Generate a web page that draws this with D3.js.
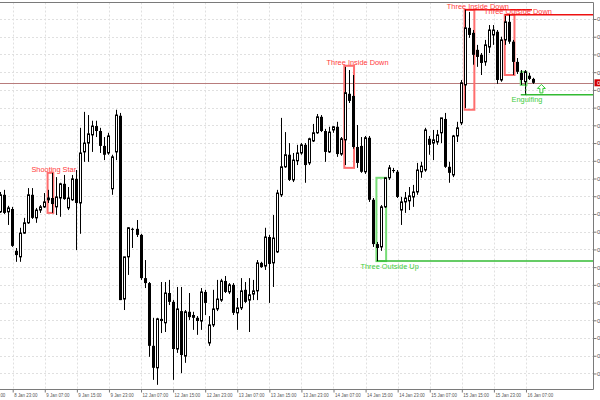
<!DOCTYPE html>
<html><head><meta charset="utf-8">
<script src="https://cdn.jsdelivr.net/npm/d3@7"></script>
<style>
html,body{margin:0;padding:0;background:#fff;}
svg{display:block;}
text{font-family:"Liberation Sans",Arial,sans-serif;}
</style></head><body>
<svg id="chart" width="600" height="400"></svg>
<script>
// ---- DATA ----
const openP = [0.78256,0.78304,0.78256,0.78264,0.78146,0.78129,0.78196,0.78225,0.78304,0.78239,
0.78261,0.78270,0.78290,0.78295,0.78270,0.78295,0.78335,0.78267,0.78290,0.78349,
0.78281,0.78425,0.78450,0.78473,0.78498,0.78484,0.78442,0.78422,0.78321,0.78425,
0.78527,0.78010,0.78129,0.78208,0.78208,0.78191,0.78069,0.78055,0.77878,0.77816,
0.77954,0.77943,0.78027,0.78002,0.77869,0.77976,0.77849,0.77974,0.77965,0.77957,
0.77948,0.78030,0.77886,0.77937,0.77982,0.78007,0.78061,0.78030,0.78050,0.77971,
0.77985,0.78036,0.78007,0.78024,0.78033,0.78112,0.78103,0.78185,0.78112,0.78143,
0.78304,0.78383,0.78417,0.78346,0.78400,0.78422,0.78445,0.78394,0.78456,0.78479,
0.78524,0.78484,0.78425,0.78487,0.78496,0.78419,0.78459,0.78589,0.78583,0.78439,
0.78442,0.78369,0.78465,0.78290,0.78165,0.78157,0.78270,0.78352,0.78374,0.78369,
0.78261,0.78284,0.78287,0.78298,0.78312,0.78369,0.78374,0.78462,0.78450,0.78453,
0.78479,0.78518,0.78383,0.78360,0.78470,0.78507,0.78614,0.78775,0.78761,0.78713,
0.78699,0.78679,0.78721,0.78755,0.78764,0.78628,0.78741,0.78792,0.78736,0.78679,
0.78648,0.78623,0.78640,0.78631];
const highP = [0.78312,0.78318,0.78273,0.78270,0.78154,0.78211,0.78239,0.78323,0.78323,0.78267,
0.78275,0.78309,0.78318,0.78366,0.78354,0.78338,0.78360,0.78326,0.78360,0.78374,
0.78493,0.78538,0.78529,0.78513,0.78513,0.78493,0.78467,0.78479,0.78417,0.78544,
0.78535,0.78129,0.78213,0.78211,0.78233,0.78194,0.78120,0.78058,0.77957,0.77957,
0.78058,0.78058,0.78064,0.78007,0.78044,0.78044,0.77979,0.78027,0.77974,0.77962,
0.78041,0.78036,0.77962,0.78036,0.78064,0.78067,0.78075,0.78055,0.78055,0.78013,
0.78069,0.78058,0.78069,0.78064,0.78120,0.78115,0.78211,0.78191,0.78247,0.78318,
0.78521,0.78481,0.78450,0.78422,0.78445,0.78450,0.78450,0.78465,0.78504,0.78532,
0.78529,0.78490,0.78496,0.78498,0.78510,0.78467,0.78665,0.78656,0.78642,0.78501,
0.78467,0.78470,0.78470,0.78295,0.78171,0.78275,0.78352,0.78388,0.78380,0.78374,
0.78298,0.78312,0.78326,0.78332,0.78394,0.78397,0.78493,0.78470,0.78487,0.78487,
0.78521,0.78535,0.78397,0.78473,0.78510,0.78628,0.78826,0.78820,0.78769,0.78727,
0.78704,0.78741,0.78783,0.78783,0.78769,0.78750,0.78809,0.78812,0.78741,0.78690,
0.78656,0.78656,0.78648,0.78634];
const lowP = [0.78253,0.78250,0.78219,0.78157,0.78115,0.78115,0.78194,0.78222,0.78236,0.78225,
0.78253,0.78267,0.78281,0.78253,0.78247,0.78242,0.78290,0.78261,0.78287,0.78148,
0.78194,0.78397,0.78397,0.78425,0.78467,0.78422,0.78402,0.78417,0.78304,0.78402,
0.78007,0.77979,0.78078,0.78154,0.78185,0.78064,0.78041,0.77847,0.77782,0.77768,
0.77914,0.77917,0.77993,0.77782,0.77858,0.77801,0.77830,0.77951,0.77923,0.77909,
0.77923,0.77965,0.77878,0.77931,0.77976,0.78002,0.78027,0.78024,0.77965,0.77923,
0.77979,0.77999,0.77917,0.78007,0.78007,0.78098,0.78092,0.77999,0.78044,0.78140,
0.78298,0.78380,0.78343,0.78340,0.78388,0.78417,0.78338,0.78388,0.78453,0.78476,
0.78481,0.78397,0.78422,0.78479,0.78411,0.78414,0.78388,0.78563,0.78434,0.78380,
0.78366,0.78363,0.78284,0.78157,0.78117,0.78146,0.78267,0.78346,0.78366,0.78295,
0.78219,0.78253,0.78261,0.78270,0.78304,0.78352,0.78369,0.78417,0.78402,0.78445,
0.78450,0.78380,0.78338,0.78354,0.78453,0.78501,0.78549,0.78747,0.78671,0.78665,
0.78642,0.78668,0.78704,0.78727,0.78617,0.78623,0.78727,0.78730,0.78642,0.78645,
0.78614,0.78586,0.78628,0.78617];
const closeP = [0.78304,0.78253,0.78267,0.78160,0.78134,0.78196,0.78225,0.78304,0.78239,0.78261,
0.78270,0.78284,0.78295,0.78278,0.78298,0.78335,0.78292,0.78295,0.78349,0.78281,
0.78422,0.78450,0.78476,0.78498,0.78484,0.78442,0.78417,0.78470,0.78411,0.78529,
0.78007,0.78129,0.78211,0.78206,0.78191,0.78069,0.78055,0.77878,0.77816,0.77954,
0.77948,0.78027,0.78002,0.77869,0.77982,0.77852,0.77974,0.77959,0.77957,0.77948,
0.78030,0.77999,0.77937,0.77982,0.78010,0.78061,0.78030,0.78050,0.77971,0.77985,
0.78033,0.78002,0.78022,0.78033,0.78112,0.78100,0.78185,0.78109,0.78182,0.78309,
0.78383,0.78417,0.78346,0.78402,0.78422,0.78445,0.78388,0.78462,0.78479,0.78524,
0.78484,0.78425,0.78481,0.78496,0.78419,0.78462,0.78592,0.78569,0.78439,0.78394,
0.78369,0.78465,0.78290,0.78165,0.78154,0.78270,0.78352,0.78380,0.78371,0.78298,
0.78284,0.78295,0.78301,0.78312,0.78374,0.78385,0.78487,0.78445,0.78459,0.78473,
0.78521,0.78383,0.78366,0.78470,0.78493,0.78620,0.78775,0.78755,0.78699,0.78693,
0.78676,0.78727,0.78769,0.78769,0.78628,0.78741,0.78792,0.78736,0.78679,0.78651,
0.78628,0.78651,0.78631,0.78620];

const timeLabels = ["8 Jan 15:00","8 Jan 23:00","9 Jan 07:00","9 Jan 15:00","9 Jan 23:00",
"12 Jan 07:00","12 Jan 15:00","12 Jan 23:00","13 Jan 07:00","13 Jan 15:00","13 Jan 23:00",
"14 Jan 07:00","14 Jan 15:00","14 Jan 23:00","15 Jan 07:00","15 Jan 15:00","15 Jan 23:00","16 Jan 07:00"];
const timeLabelBars = [-5,3,11,19,27,35,43,51,59,67,75,83,91,99,107,115,123,131];
const priceTicks = [0.7780,0.7785,0.7790,0.7795,0.7800,0.7805,0.7810,0.7815,0.7820,0.7825,0.7830,
0.7835,0.7840,0.7845,0.7850,0.7855,0.7860,0.7865,0.7870,0.7875,0.7880];

const patternNames = ["Shooting Star","Three Inside Down","Three Outside Up","Three Inside Down","Three Outside Down","Engulfing"];
const patternStart = [12,86,94,116,126,130];
const patternEnd = [13,88,96,118,128,131];
const patternHigh = [0.78366,0.78668,0.78352,0.78826,0.78812,0.78651];
const patternLow = [0.78253,0.78380,0.78117,0.78544,0.78642,0.78614];
const patternBullish = [false,false,true,false,false,true];
const patternLevel = [null,null,0.78117,0.78826,0.78812,0.78586];
const patternLevelEndBar = [null,null,null,132.5,null,null];

// ---- LAYOUT ----
const axisX = 593.5, bottomY = 389.5, topY = 2.5, barStep = 4.01;
const svg = d3.select("#chart");
const n = closeP.length;
const x = d3.scaleLinear().domain([0, n-1]).range([0.67, 0.67 + (n-1)*barStep]);
const y = d3.scaleLinear().domain([0.777562, 0.788536]).range([389, 0]);

const gGrid = svg.append("g");
gGrid.selectAll("line.h").data(priceTicks).enter().append("line")
  .attr("x1",0).attr("x2",axisX).attr("y1",d=>Math.round(y(d))+0.5).attr("y2",d=>Math.round(y(d))+0.5)
  .attr("stroke","#e0e0e0").attr("stroke-dasharray","2,2");
gGrid.selectAll("line.v").data(timeLabelBars).enter().append("line")
  .attr("x1",d=>Math.round(x(d))+0.5).attr("x2",d=>Math.round(x(d))+0.5).attr("y1",topY).attr("y2",bottomY)
  .attr("stroke","#e0e0e0").attr("stroke-dasharray","2,2");

// bid line
const lastClose = closeP[n-1];
svg.append("line").attr("x1",0).attr("x2",axisX).attr("y1",Math.round(y(lastClose))+0.5).attr("y2",Math.round(y(lastClose))+0.5)
  .attr("stroke","#b87c7c").attr("stroke-width",1);

// pattern boxes and levels (behind candles)
const gPat = svg.append("g");
patternNames.forEach((name,k)=>{
  const bull = patternBullish[k];
  const boxCol = bull ? "#77dd77" : "#ff6e6e";
  const lineCol = bull ? "#33bb33" : "#ee1111";
  const x0 = x(patternStart[k]) - 1.2, x1 = x(patternEnd[k]) + 0.5;
  gPat.append("rect").attr("x",x0).attr("y",y(patternHigh[k])).attr("width",x1-x0)
    .attr("height",y(patternLow[k])-y(patternHigh[k])).attr("fill","none")
    .attr("stroke",boxCol).attr("stroke-width",2);
  if (patternLevel[k] !== null) {
    const xe = patternLevelEndBar[k] === null ? axisX : x(patternLevelEndBar[k]);
    gPat.append("line").attr("x1",x0).attr("x2",xe).attr("y1",y(patternLevel[k])).attr("y2",y(patternLevel[k]))
      .attr("stroke",lineCol).attr("stroke-width",1.5);
  }
});

// candles
const gC = svg.append("g");
for (let i=0;i<n;i++){
  const cx = Math.floor(x(i));
  const o=y(openP[i]), c=y(closeP[i]), h=y(highP[i]), l=y(lowP[i]);
  gC.append("line").attr("x1",cx+0.5).attr("x2",cx+0.5).attr("y1",h).attr("y2",l).attr("stroke","#000").attr("stroke-width",1);
  const top=Math.min(o,c), bot=Math.max(o,c);
  if (closeP[i] >= openP[i]) {
    gC.append("rect").attr("x",cx-0.5).attr("y",top).attr("width",2).attr("height",Math.max(bot-top,0.5))
      .attr("fill","#fff").attr("stroke","#000").attr("stroke-width",1);
  } else {
    gC.append("rect").attr("x",cx-1).attr("y",top).attr("width",3).attr("height",Math.max(bot-top,1))
      .attr("fill","#000");
  }
}

// pattern labels and markers
patternNames.forEach((name,k)=>{
  const bull = patternBullish[k];
  const txtCol = bull ? "#3ccc3c" : "#ff3a3a";
  const span = patternEnd[k]-patternStart[k];
  const cxl = x(patternEnd[k]) + (span>=2 ? 4 : 1);
  let ty;
  if (bull) {
    const lowest = patternLevel[k]!==null ? Math.min(patternLow[k], patternLevel[k]) : patternLow[k];
    ty = y(lowest) + 7.5;
  } else {
    ty = y(patternHigh[k]) - 1.2;
  }
  svg.append("text").attr("x",cxl).attr("y",ty).attr("text-anchor","middle")
    .attr("font-size","7.4px").attr("fill",txtCol).text(name);
  if (name === "Engulfing") {
    const ex = x(patternEnd[k]);
    svg.append("line").attr("x1",ex).attr("x2",ex).attr("y1",y(patternLow[k])).attr("y2",y(patternLevel[k]))
      .attr("stroke","#33bb33").attr("stroke-dasharray","2,2");
    const ax = ex + 15.4, at = y(patternLow[k]) - 0.5;
    const p = [[ax,at],[ax+4,at+4],[ax+1.5,at+4],[ax+1.5,at+8.5],[ax-1.5,at+8.5],[ax-1.5,at+4],[ax-4,at+4]];
    svg.append("path").attr("d","M"+p.map(q=>q.join(",")).join("L")+"Z")
      .attr("fill","#fff").attr("stroke","#33cc33").attr("stroke-width",1);
  }
});

// frame
svg.append("line").attr("x1",0).attr("x2",axisX).attr("y1",topY).attr("y2",topY).attr("stroke","#7a7a7a");
svg.append("line").attr("x1",0).attr("x2",axisX).attr("y1",bottomY).attr("y2",bottomY).attr("stroke","#7a7a7a");
svg.append("line").attr("x1",axisX).attr("x2",axisX).attr("y1",topY).attr("y2",bottomY).attr("stroke","#7a7a7a");

// axes
const yAxis = d3.axisRight(y).tickValues(priceTicks).tickSize(3).tickSizeOuter(0).tickFormat(d3.format(".5f"));
const gy = svg.append("g").attr("transform",`translate(${axisX},0)`).call(yAxis);
gy.select(".domain").remove();
gy.selectAll(".tick line").attr("stroke","#777");
gy.selectAll(".tick text").attr("x",3.5).attr("dy","0.32em").attr("font-size","6px").attr("fill","#555").attr("font-family","Liberation Sans, Arial, sans-serif");

const xAxis = d3.axisBottom(x).tickValues(timeLabelBars).tickSize(3).tickSizeOuter(0)
  .tickFormat((d,i)=>timeLabels[i]);
const gx = svg.append("g").attr("transform",`translate(0,${bottomY})`).call(xAxis);
gx.select(".domain").remove();
gx.selectAll(".tick line").attr("stroke","#777");
gx.selectAll(".tick text").attr("text-anchor","start").attr("x",1).attr("y",3.5).attr("dy","0.71em")
  .attr("font-size","6px").attr("fill","#555").attr("font-family","Liberation Sans, Arial, sans-serif")
  .each(function(){ const w=this.getComputedTextLength(); d3.select(this).attr("textLength",w*0.74).attr("lengthAdjust","spacingAndGlyphs"); });

// bid price tag
svg.append("rect").attr("x",axisX+1).attr("y",y(lastClose)-3.5).attr("width",7).attr("height",7).attr("fill","#d40000");
svg.append("text").attr("x",axisX+3.5).attr("y",y(lastClose)).attr("dy","0.32em").attr("font-size","6px").attr("fill","#fff")
  .text(d3.format(".5f")(lastClose));
</script>
</body></html>
